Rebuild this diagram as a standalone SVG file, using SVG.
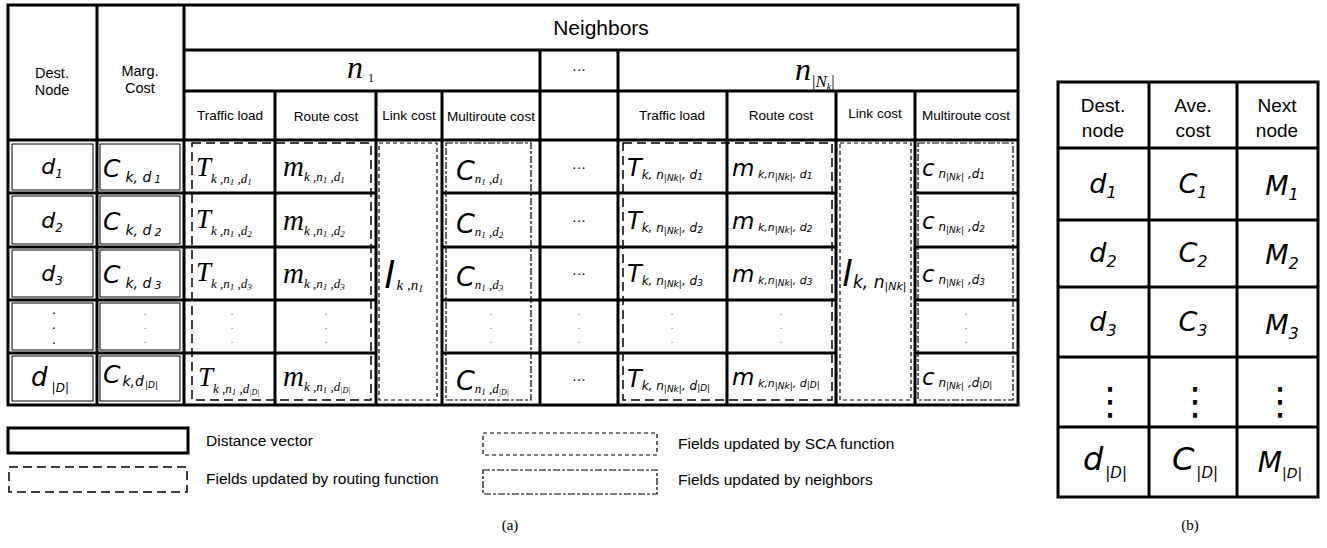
<svg xmlns="http://www.w3.org/2000/svg" width="1327" height="548" viewBox="0 0 1327 548">
<style>
.g{stroke:#000;stroke-width:3;fill:none}
.gt{stroke:#000;stroke-width:1;fill:none}
.dr{stroke:#000;stroke-width:1.5;fill:none;stroke-dasharray:9 5}
.ds{stroke:#000;stroke-width:1.2;fill:none;stroke-dasharray:4 3}
.dn{stroke:#000;stroke-width:1.2;fill:none;stroke-dasharray:7 2 3 2}
.h{font-family:'Liberation Sans',Arial,sans-serif;fill:#000}
.ms{font-family:'DejaVu Sans',Verdana,sans-serif;font-style:italic;fill:#000}
.mr{font-family:'Liberation Serif','Times New Roman',serif;font-style:italic;fill:#000}
.cap{font-family:'Liberation Serif','Times New Roman',serif;font-size:15px;fill:#000}
.dot{font-family:'Liberation Sans',sans-serif;font-size:14px;fill:#000;text-anchor:middle}
.dl{font-family:'Liberation Sans',sans-serif;font-size:11px;fill:#777;text-anchor:middle}
.db{font-family:'DejaVu Sans',sans-serif;font-size:38px;fill:#000;text-anchor:middle}
.ell{font-family:'Liberation Sans',sans-serif;font-size:14px;fill:#000;text-anchor:middle}
</style>
<rect width="1327" height="548" fill="#fff"/>

<g id="table-a-grid">
<rect class="g" x="8" y="5" width="1010" height="400"/>
<path class="g" d="M97 5V405M184 5V405M540 50V405M618 50V405M275 91V405M376 91V405M442 91V405M727 91V405M836 91V405M915 91V405M184 50H1018M184 91H1018M8 140H1018"/>
<path class="g" d="M8 193H376M442 193H836M915 193H1018M8 247H376M442 247H836M915 247H1018M8 300H376M442 300H836M915 300H1018M8 353H376M442 353H836M915 353H1018"/>
<g class="gt">
<rect x="12" y="144" width="81" height="46"/><rect x="100" y="144" width="80" height="46"/>
<rect x="12" y="196" width="81" height="48"/><rect x="100" y="196" width="80" height="48"/>
<rect x="12" y="250" width="81" height="47"/><rect x="100" y="250" width="80" height="47"/>
<rect x="12" y="303" width="81" height="47"/><rect x="100" y="303" width="80" height="47"/>
<rect x="12" y="356" width="81" height="45"/><rect x="100" y="356" width="80" height="45"/>
</g>
<rect class="dr" x="192" y="143" width="179" height="257"/>
<rect class="ds" x="379" y="143" width="58" height="257"/>
<rect class="dn" x="446" y="143" width="85" height="257"/>
<rect class="dr" x="623" y="143" width="209" height="257"/>
<rect class="ds" x="840" y="143" width="71" height="257"/>
<rect class="dn" x="918" y="143" width="95" height="257"/>
</g>

<g id="table-a-header">
<text class="h" x="601" y="35" font-size="21" text-anchor="middle">Neighbors</text>
<text class="h" x="52" y="78" font-size="14.5" text-anchor="middle">Dest.</text>
<text class="h" x="52" y="95" font-size="14.5" text-anchor="middle">Node</text>
<text class="h" x="140" y="76" font-size="14.5" text-anchor="middle">Marg.</text>
<text class="h" x="140" y="93" font-size="14.5" text-anchor="middle">Cost</text>
<text class="mr" x="347" y="78" font-size="32">n<tspan font-size="12" font-style="normal" dx="5" dy="4">1</tspan></text>
<text class="ell" x="579" y="74">···</text>
<text class="mr" x="795" y="80" font-size="32">n<tspan font-size="17" font-style="normal" dx="1" dy="7">|</tspan><tspan font-size="17">N</tspan><tspan font-size="10" dy="3">k</tspan><tspan font-size="17" font-style="normal" dy="-3">|</tspan></text>
<g class="h" font-size="13.5" text-anchor="middle">
<text x="230" y="120">Traffic load</text>
<text x="326" y="121">Route cost</text>
<text x="409" y="120">Link cost</text>
<text x="491" y="121">Multiroute cost</text>
<text x="672" y="120">Traffic load</text>
<text x="781" y="120">Route cost</text>
<text x="875" y="118">Link cost</text>
<text x="966" y="120">Multiroute cost</text>
</g>
</g>

<g id="col-dest">
<text class="ms" x="52" y="174" font-size="22" text-anchor="middle">d<tspan font-size="12" dy="4">1</tspan></text>
<text class="ms" x="52" y="228" font-size="22" text-anchor="middle">d<tspan font-size="12" dy="4">2</tspan></text>
<text class="ms" x="52" y="281" font-size="22" text-anchor="middle">d<tspan font-size="12" dy="4">3</tspan></text>
<text class="dot"><tspan x="54" y="314">.</tspan><tspan x="54" y="329">.</tspan><tspan x="54" y="344">.</tspan></text>
<text class="ms" x="50" y="386" font-size="26" text-anchor="middle">d<tspan font-size="12" dx="4" dy="6">|D|</tspan></text>
</g>

<g id="col-marg">
<text class="ms" x="103" y="177" font-size="25" font-style="normal">C<tspan class="ms" font-size="14" dx="5" dy="5">k, d</tspan><tspan font-size="10" dx="3" dy="1">1</tspan></text>
<text class="ms" x="103" y="230" font-size="25" font-style="normal">C<tspan class="ms" font-size="14" dx="5" dy="5">k, d</tspan><tspan font-size="11" dx="3" dy="1">2</tspan></text>
<text class="ms" x="103" y="283" font-size="25" font-style="normal">C<tspan class="ms" font-size="14" dx="5" dy="5">k, d</tspan><tspan font-size="11" dx="3" dy="1">3</tspan></text>
<text class="dl"><tspan x="145" y="315">.</tspan><tspan x="145" y="329">.</tspan><tspan x="145" y="343">.</tspan></text>
<text class="ms" x="103" y="383" font-size="25" font-style="normal">C<tspan class="ms" font-size="14" dx="2" dy="3">k,d</tspan><tspan font-size="9" dx="1" dy="2">|D|</tspan></text>
</g>

<g id="col-n1-traffic">
<text class="mr" x="196" y="176" font-size="27">T<tspan font-size="13" dy="7">k ,n</tspan><tspan font-size="9" dy="2">1</tspan><tspan font-size="13" dy="-2"> ,d</tspan><tspan font-size="9" dy="2">1</tspan></text>
<text class="mr" x="196" y="228" font-size="27">T<tspan font-size="13" dy="7">k ,n</tspan><tspan font-size="9" dy="2">1</tspan><tspan font-size="13" dy="-2"> ,d</tspan><tspan font-size="9" dy="2">2</tspan></text>
<text class="mr" x="196" y="281" font-size="27">T<tspan font-size="13" dy="7">k ,n</tspan><tspan font-size="9" dy="2">1</tspan><tspan font-size="13" dy="-2"> ,d</tspan><tspan font-size="9" dy="2">3</tspan></text>
<text class="dl"><tspan x="232" y="315">.</tspan><tspan x="232" y="329">.</tspan><tspan x="232" y="343">.</tspan></text>
<text class="mr" x="198" y="386" font-size="27">T<tspan font-size="13" dy="7">k ,n</tspan><tspan font-size="9" dy="2">1</tspan><tspan font-size="13" dy="-2"> ,d</tspan><tspan font-size="8" dy="2">|D|</tspan></text>
</g>

<g id="col-n1-route">
<text class="mr" x="283" y="176" font-size="29">m<tspan font-size="13" dy="5">k ,n</tspan><tspan font-size="9" dy="2">1</tspan><tspan font-size="13" dy="-2"> ,d</tspan><tspan font-size="9" dy="2">1</tspan></text>
<text class="mr" x="283" y="230" font-size="29">m<tspan font-size="13" dy="5">k ,n</tspan><tspan font-size="9" dy="2">1</tspan><tspan font-size="13" dy="-2"> ,d</tspan><tspan font-size="9" dy="2">2</tspan></text>
<text class="mr" x="283" y="283" font-size="29">m<tspan font-size="13" dy="5">k ,n</tspan><tspan font-size="9" dy="2">1</tspan><tspan font-size="13" dy="-2"> ,d</tspan><tspan font-size="9" dy="2">3</tspan></text>
<text class="dl"><tspan x="326" y="315">.</tspan><tspan x="326" y="329">.</tspan><tspan x="326" y="343">.</tspan></text>
<text class="mr" x="283" y="386" font-size="29">m<tspan font-size="13" dy="5">k ,n</tspan><tspan font-size="9" dy="2">1</tspan><tspan font-size="13" dy="-2"> ,d</tspan><tspan font-size="8" dy="2">|D|</tspan></text>
</g>

<g id="col-n1-link">
<text class="ms" x="384" y="288" font-size="38">l<tspan class="mr" font-size="15" dx="2" dy="2">k ,n</tspan><tspan class="mr" font-size="10" dy="2">1</tspan></text>
</g>

<g id="col-n1-multi">
<text class="ms" x="456" y="180" font-size="27">C<tspan class="mr" font-size="13" dy="3">n</tspan><tspan class="mr" font-size="9" dy="2">1</tspan><tspan class="mr" font-size="13" dy="-2"> ,d</tspan><tspan class="mr" font-size="9" dy="2">1</tspan></text>
<text class="ms" x="456" y="233" font-size="27">C<tspan class="mr" font-size="13" dy="3">n</tspan><tspan class="mr" font-size="9" dy="2">1</tspan><tspan class="mr" font-size="13" dy="-2"> ,d</tspan><tspan class="mr" font-size="9" dy="2">2</tspan></text>
<text class="ms" x="456" y="286" font-size="27">C<tspan class="mr" font-size="13" dy="3">n</tspan><tspan class="mr" font-size="9" dy="2">1</tspan><tspan class="mr" font-size="13" dy="-2"> ,d</tspan><tspan class="mr" font-size="9" dy="2">3</tspan></text>
<text class="dl"><tspan x="491" y="315">.</tspan><tspan x="491" y="329">.</tspan><tspan x="491" y="343">.</tspan></text>
<text class="ms" x="456" y="390" font-size="27">C<tspan class="mr" font-size="13" dy="3">n</tspan><tspan class="mr" font-size="9" dy="2">1</tspan><tspan class="mr" font-size="13" dy="-2"> ,d</tspan><tspan class="mr" font-size="8" dy="2">|D|</tspan></text>
</g>

<g id="col-ellipsis">
<text class="ell" x="579" y="172">···</text>
<text class="ell" x="579" y="225">···</text>
<text class="ell" x="579" y="278">···</text>
<text class="dl"><tspan x="579" y="315">.</tspan><tspan x="579" y="329">.</tspan><tspan x="579" y="343">.</tspan></text>
<text class="ell" x="579" y="384">···</text>
</g>

<g id="col-nk-traffic">
<text class="ms" x="627" y="176" font-size="24">T<tspan font-size="12" dy="3">k, n</tspan><tspan font-size="9" dy="2">|Nk|</tspan><tspan font-size="12" dy="-2">, d</tspan><tspan font-size="9" dy="1">1</tspan></text>
<text class="ms" x="627" y="229" font-size="24">T<tspan font-size="12" dy="3">k, n</tspan><tspan font-size="9" dy="2">|Nk|</tspan><tspan font-size="12" dy="-2">, d</tspan><tspan font-size="9" dy="1">2</tspan></text>
<text class="ms" x="627" y="282" font-size="24">T<tspan font-size="12" dy="3">k, n</tspan><tspan font-size="9" dy="2">|Nk|</tspan><tspan font-size="12" dy="-2">, d</tspan><tspan font-size="9" dy="1">3</tspan></text>
<text class="dl"><tspan x="672" y="315">.</tspan><tspan x="672" y="329">.</tspan><tspan x="672" y="343">.</tspan></text>
<text class="ms" x="627" y="387" font-size="24">T<tspan font-size="12" dy="3">k, n</tspan><tspan font-size="9" dy="2">|Nk|</tspan><tspan font-size="12" dy="-2">, d</tspan><tspan font-size="9" dy="1">|D|</tspan></text>
</g>

<g id="col-nk-route">
<text class="ms" x="732" y="176" font-size="23">m<tspan font-size="11" dy="2"> k,n</tspan><tspan font-size="9" dy="2">|Nk|</tspan><tspan font-size="11" dy="-2">, d</tspan><tspan font-size="9" dy="1">1</tspan></text>
<text class="ms" x="732" y="229" font-size="23">m<tspan font-size="11" dy="2"> k,n</tspan><tspan font-size="9" dy="2">|Nk|</tspan><tspan font-size="11" dy="-2">, d</tspan><tspan font-size="9" dy="1">2</tspan></text>
<text class="ms" x="732" y="282" font-size="23">m<tspan font-size="11" dy="2"> k,n</tspan><tspan font-size="9" dy="2">|Nk|</tspan><tspan font-size="11" dy="-2">, d</tspan><tspan font-size="9" dy="1">3</tspan></text>
<text class="dl"><tspan x="781" y="315">.</tspan><tspan x="781" y="329">.</tspan><tspan x="781" y="343">.</tspan></text>
<text class="ms" x="732" y="385" font-size="23">m<tspan font-size="11" dy="2"> k,n</tspan><tspan font-size="9" dy="2">|Nk|</tspan><tspan font-size="11" dy="-2">, d</tspan><tspan font-size="9" dy="1">|D|</tspan></text>
</g>

<g id="col-nk-link">
<text class="ms" x="842" y="286" font-size="36">l<tspan font-size="17" dx="1" dy="2">k, n</tspan><tspan font-size="11" dy="2">|Nk|</tspan></text>
</g>

<g id="col-nk-multi">
<text class="ms" x="922" y="176" font-size="23">c<tspan font-size="12" dy="2"> n</tspan><tspan font-size="9" dy="2">|Nk|</tspan><tspan font-size="12" dy="-2"> ,d</tspan><tspan font-size="9" dy="1">1</tspan></text>
<text class="ms" x="922" y="229" font-size="23">c<tspan font-size="12" dy="2"> n</tspan><tspan font-size="9" dy="2">|Nk|</tspan><tspan font-size="12" dy="-2"> ,d</tspan><tspan font-size="9" dy="1">2</tspan></text>
<text class="ms" x="922" y="282" font-size="23">c<tspan font-size="12" dy="2"> n</tspan><tspan font-size="9" dy="2">|Nk|</tspan><tspan font-size="12" dy="-2"> ,d</tspan><tspan font-size="9" dy="1">3</tspan></text>
<text class="dl"><tspan x="966" y="315">.</tspan><tspan x="966" y="329">.</tspan><tspan x="966" y="343">.</tspan></text>
<text class="ms" x="922" y="385" font-size="23">c<tspan font-size="12" dy="2"> n</tspan><tspan font-size="9" dy="2">|Nk|</tspan><tspan font-size="12" dy="-2"> ,d</tspan><tspan font-size="9" dy="1">|D|</tspan></text>
</g>

<g id="legend">
<rect class="g" x="8" y="428" width="180" height="25"/>
<rect class="dr" x="9" y="467" width="178" height="25"/>
<rect class="ds" x="483" y="433" width="174" height="22"/>
<rect class="dn" x="483" y="470" width="174" height="24"/>
<text class="h" x="206" y="446" font-size="15.5">Distance vector</text>
<text class="h" x="206" y="484" font-size="15.5">Fields updated by routing function</text>
<text class="h" x="678" y="449" font-size="15.5">Fields updated by SCA function</text>
<text class="h" x="678" y="485" font-size="15.5">Fields updated by neighbors</text>
<text class="cap" x="510" y="530" text-anchor="middle">(a)</text>
</g>

<g id="table-b">
<rect class="g" x="1058" y="82" width="260" height="415"/>
<path class="g" d="M1149 82V497M1237 82V497M1058 148H1318M1058 220H1318M1058 287H1318M1058 357H1318M1058 427H1318"/>
<g class="h" font-size="19" text-anchor="middle">
<text x="1103" y="112">Dest.</text><text x="1103" y="137">node</text>
<text x="1193" y="112">Ave.</text><text x="1193" y="137">cost</text>
<text x="1277" y="112">Next</text><text x="1277" y="137">node</text>
</g>
<g class="ms" font-size="27" text-anchor="middle">
<text x="1103" y="193">d<tspan font-size="16" dy="5">1</tspan></text>
<text x="1193" y="193">C<tspan font-size="16" dy="5">1</tspan></text>
<text x="1282" y="195">M<tspan font-size="16" dy="5">1</tspan></text>
<text x="1103" y="262">d<tspan font-size="16" dy="5">2</tspan></text>
<text x="1193" y="262">C<tspan font-size="16" dy="5">2</tspan></text>
<text x="1282" y="264">M<tspan font-size="16" dy="5">2</tspan></text>
<text x="1103" y="331">d<tspan font-size="16" dy="5">3</tspan></text>
<text x="1193" y="331">C<tspan font-size="16" dy="5">3</tspan></text>
<text x="1282" y="334">M<tspan font-size="16" dy="5">3</tspan></text>
</g>
<text class="db" x="1110" y="414">⋮</text>
<text class="db" x="1195" y="414">⋮</text>
<text class="db" x="1280" y="414">⋮</text>
<g class="ms" text-anchor="middle">
<text x="1105" y="470" font-size="32">d<tspan font-size="15" dx="2" dy="8">|D|</tspan></text>
<text x="1195" y="470" font-size="32">C<tspan font-size="15" dx="2" dy="8">|D|</tspan></text>
<text x="1280" y="472" font-size="28">M<tspan font-size="14" dy="6">|D|</tspan></text>
</g>
<text class="cap" x="1190" y="530" text-anchor="middle">(b)</text>
</g>
</svg>
